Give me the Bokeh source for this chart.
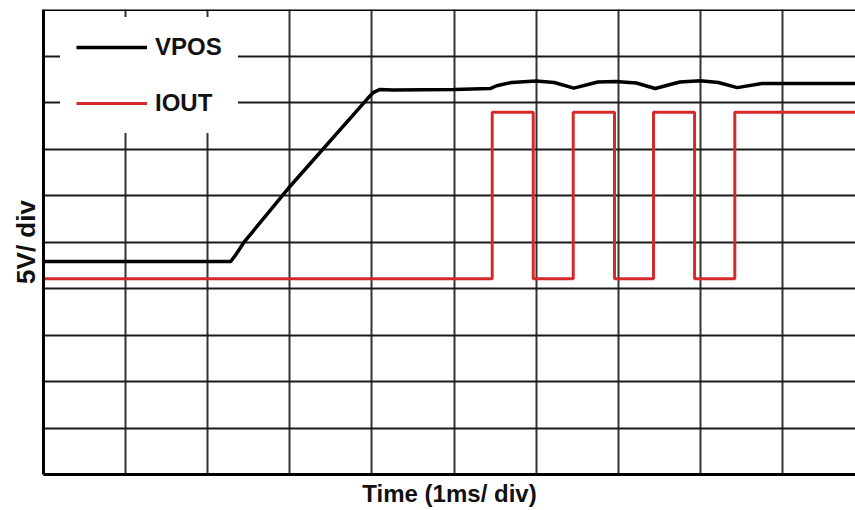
from bokeh.plotting import figure
from bokeh.models import Range1d, FixedTicker, Legend, LegendItem, Span
from bokeh.embed import file_html
from bokeh.resources import INLINE

# ---- data (time in ms = divisions, level in divisions of 5 V) ----
vpos_t = [0.0, 2.28, 2.34, 2.44, 2.98, 3.95, 4.02, 4.10, 4.25, 5.0, 5.44, 5.52, 5.70, 6.0,
          6.22, 6.46, 6.75, 6.97, 7.22, 7.45, 7.75, 8.0, 8.22, 8.45, 8.75, 9.3, 9.89]
vpos_v = [4.58, 4.58, 4.72, 4.99, 6.15, 8.09, 8.22, 8.28, 8.27, 8.28, 8.30, 8.36, 8.43, 8.46,
          8.43, 8.31, 8.44, 8.45, 8.42, 8.30, 8.44, 8.47, 8.43, 8.32, 8.41, 8.41, 8.41]

iout_low = 4.21
iout_high = 7.79
iout_rise = [5.465, 6.452, 7.43, 8.42]
iout_fall = [5.965, 6.955, 7.93]
t_start, t_end = 0.0, 9.89

grid_x = list(range(0, 11))
grid_y = list(range(0, 11))

# build IOUT square wave from the edge times
edges = sorted([(t, iout_high) for t in iout_rise] + [(t, iout_low) for t in iout_fall])
iout_t = [t_start]
iout_v = [iout_low]
level = iout_low
for t, new in edges:
    iout_t += [t, t]
    iout_v += [level, new]
    level = new
iout_t.append(t_end)
iout_v.append(level)

FONT = "Liberation Sans"

p = figure(width=855, height=510, output_backend="svg", toolbar_location=None,
           x_range=Range1d(t_start, t_end), y_range=Range1d(0, 10),
           min_border_left=43, min_border_right=0, min_border_top=9, min_border_bottom=36)
p.outline_line_color = None
p.background_fill_color = "white"
p.border_fill_color = "white"

for ax in (p.xaxis[0], p.yaxis[0]):
    ax.ticker = FixedTicker(ticks=[])
    ax.major_tick_line_color = None
    ax.minor_tick_line_color = None
    ax.major_label_text_font_size = "0px"
    ax.major_label_standoff = 0
    ax.axis_line_width = 3
    ax.axis_line_color = "black"
    ax.axis_label_text_font = FONT
    ax.axis_label_text_font_style = "bold"
    ax.axis_label_text_color = "#111111"

p.xaxis.axis_label = "Time (1ms/ div)"
p.xaxis.axis_label_text_font_size = "24px"
p.xaxis.axis_label_standoff = 5
p.yaxis.axis_label = "5V/ div"
p.yaxis.axis_label_text_font_size = "26px"
p.yaxis.axis_label_standoff = 3

p.xgrid.ticker = FixedTicker(ticks=grid_x)
p.ygrid.ticker = FixedTicker(ticks=grid_y)
p.xgrid.grid_line_color = "#333333"
p.xgrid.grid_line_width = 2
p.ygrid.grid_line_color = "#1a1a1a"
p.ygrid.grid_line_width = 2

r_v = p.line(vpos_t, vpos_v, line_color="black", line_width=3.5)
r_i = p.line(iout_t, iout_v, line_color="#d42a2a", line_width=3)

legend = Legend(items=[LegendItem(label="VPOS", renderers=[r_v]),
                       LegendItem(label="IOUT", renderers=[r_i])],
                location=(17, 341))
legend.label_text_font = FONT
legend.label_text_font_style = "bold"
legend.label_text_font_size = "24px"
legend.label_text_color = "#111111"
legend.glyph_width = 71
legend.glyph_height = 28
legend.label_height = 28
legend.label_standoff = 8
legend.spacing = 28
legend.padding = 15
legend.margin = 0
legend.border_line_color = "white"
legend.border_line_width = 1
legend.background_fill_color = "white"
legend.background_fill_alpha = 1.0
p.add_layout(legend)

p.add_layout(Span(location=10, dimension="width", line_color="black", line_width=3))

open("out.html", "w").write(file_html(p, INLINE))
